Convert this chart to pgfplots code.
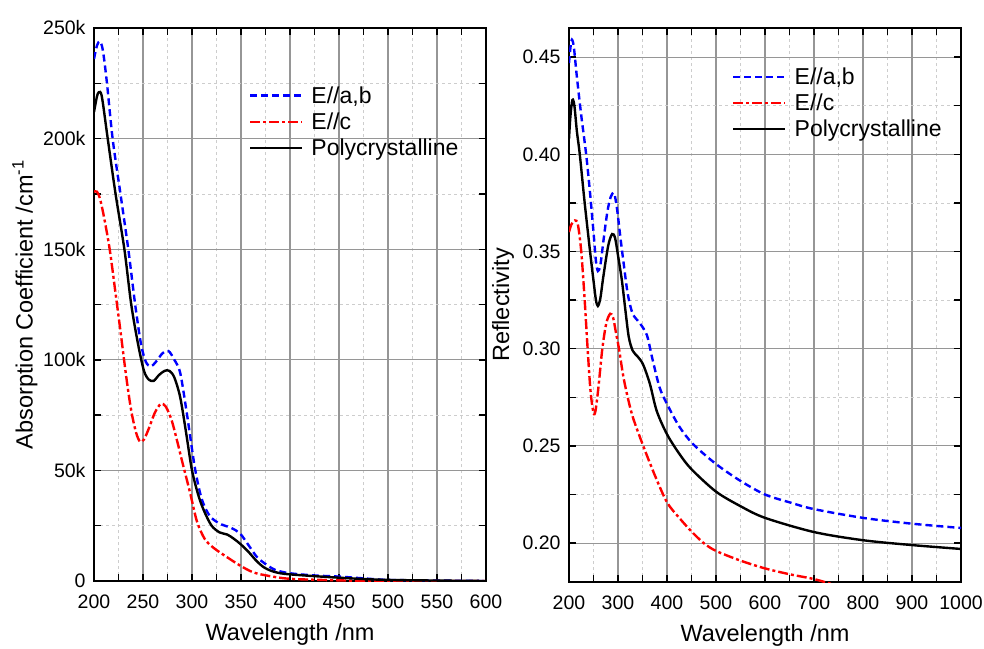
\documentclass[border=0pt]{standalone}
\usepackage{fontspec}
\setmainfont{Liberation Sans}
\usepackage{pgfplots}
\pgfplotsset{compat=1.18}

\definecolor{majgrid}{RGB}{150,150,150}
\definecolor{mingrid}{RGB}{205,205,205}

\pgfplotsset{
  specax/.style={
    scale only axis,
    anchor=north west,
    width=392pt,
    axis line style={line width=1.6pt},
    grid=both,
    major grid style={majgrid, line width=1.1pt},
    minor grid style={mingrid, dashed, line width=0.8pt},
    minor x tick num=1,
    minor y tick num=1,
    major tick length=7pt,
    minor tick length=7pt,
    tick style={black, line width=1.4pt},
    tick label style={font=\fontsize{19.5}{21}\selectfont},
    xticklabel style={yshift=-10pt, /pgf/number format/1000 sep={}},
    yticklabel style={xshift=-5pt},
    /pgf/number format/assume math mode=true,
    label style={font=\fontsize{23.5}{26}\selectfont},
    xlabel={Wavelength /nm},
    xlabel style={at={(axis description cs:0.5,-0.096)}, anchor=center},
    legend cell align=left,
    legend image code/.code={\draw[##1] (0pt,0pt) -- (52pt,0pt);},
    legend style={draw=none, fill=none, inner sep=0pt,
      font=\fontsize{23}{25}\selectfont, row sep=4pt,
      nodes={inner sep=2pt},
      /tikz/every odd column/.append style={column sep=6pt}},
  },
  ab/.style={blue, line width=2.4pt, dash pattern=on 7pt off 4pt, smooth},
  cc/.style={red, line width=2.4pt, dash pattern=on 10pt off 3pt on 3pt off 3pt, smooth},
  pc/.style={black, line width=2.4pt, smooth},
}

\begin{document}
\begin{tikzpicture}
\path[use as bounding box] (0pt,0pt) rectangle (984pt,-648pt);

\begin{axis}[
  specax,
  at={(94pt,-28pt)},
  height=553pt,
  xmin=200, xmax=600,
  ymin=0, ymax=250000,
  xtick={200,250,...,600},
  ytick={0,50000,100000,150000,200000,250000},
  yticklabels={0,50k,100k,150k,200k,250k},
  scaled y ticks=false,
  ylabel={Absorption Coefficient /cm\textsuperscript{-1}},
  ylabel style={at={(axis description cs:-0.176,0.5)}, anchor=center},
  legend style={at={(axis description cs:0.395,0.898)}, anchor=north west},
]
\addplot[ab] coordinates {
(200,236000) (203,242000) (206,244000) (209,240000) (213,226000) (219,200000)
(227,175000) (235,150000) (242,125000) (248,107000) (253,99000) (258,97000)
(263,99000) (270,103000) (276,104000) (282,100000) (288,94000) (295,75000)
(303,51000) (310,37000) (318,29500) (328,26000) (340,24000) (349,21500)
(358,16000) (366,11000) (374,8000) (385,5000) (400,3500) (425,2500)
(450,2000) (475,1200) (500,500) (550,200) (600,0)};
\addlegendentry{E//a,b}
\addplot[cc] coordinates {
(200,176000) (203,176000) (206,173000) (210,165000) (216,150000) (222,130000)
(227,113000) (233,92000) (238,77000) (243,67000) (247,63000) (251,64000)
(256,69000) (262,76000) (268,80000) (273,79000) (279,73000) (285,63000)
(290,54000) (298,40000) (305,27000) (313,19000) (322,15000) (335,11000)
(349,7000) (362,4000) (376,2500) (400,1000) (450,300) (500,0) (600,0)};
\addlegendentry{E//c}
\addplot[pc] coordinates {
(200,212000) (203,219000) (205,221000) (208,219000) (214,200000) (222,175000)
(231,150000) (238,125000) (245,107000) (251,95000) (256,91000) (261,90500)
(266,93000) (272,95000) (277,95000) (282,92000) (288,83000) (294,67000)
(300,50000) (307,38000) (313,31000) (320,25000) (328,22000) (336,21000)
(343,19000) (350,16500) (358,13000) (366,9000) (374,6000) (385,4000)
(400,3000) (450,1500) (500,500) (600,0)};
\addlegendentry{Polycrystalline}
\end{axis}

\begin{axis}[
  specax,
  at={(569pt,-28pt)},
  height=554pt,
  xmin=200, xmax=1000,
  ymin=0.18, ymax=0.465,
  xtick={200,300,...,1000},
  ytick={0.20,0.25,0.30,0.35,0.40,0.45},
  yticklabel style={/pgf/number format/.cd, fixed, fixed zerofill, precision=2},
  ylabel={Reflectivity},
  ylabel style={at={(axis description cs:-0.168,0.5)}, anchor=center},
  legend style={at={(axis description cs:0.416,0.932)}, anchor=north west},
]
\addplot[ab] coordinates {
(200,0.447) (203,0.455) (206,0.459) (210,0.455) (216,0.44) (225,0.42)
(235,0.40) (243,0.38) (250,0.36) (255,0.345) (259,0.340) (264,0.343)
(270,0.355) (278,0.370) (285,0.378) (292,0.380) (298,0.372) (305,0.357)
(312,0.343) (320,0.328) (330,0.318) (345,0.313) (359,0.307) (370,0.295)
(385,0.28) (400,0.2716) (425,0.26) (453,0.251) (500,0.2407) (550,0.232)
(600,0.225) (650,0.221) (700,0.2175) (800,0.213) (900,0.210) (1000,0.2078)};
\addlegendentry{E//a,b}
\addplot[cc] coordinates {
(200,0.36) (205,0.364) (212,0.366) (218,0.364) (225,0.35) (232,0.325)
(238,0.30) (244,0.278) (250,0.267) (254,0.268) (260,0.28) (268,0.300)
(276,0.313) (284,0.318) (290,0.316) (296,0.308) (302,0.300) (310,0.287)
(318,0.277) (330,0.265) (350,0.251) (375,0.235) (400,0.221) (425,0.213)
(450,0.206) (475,0.200) (500,0.196) (550,0.191) (600,0.187) (650,0.184)
(700,0.1815) (750,0.178) (800,0.175)};
\addlegendentry{E//c}
\addplot[pc] coordinates {
(200,0.408) (203,0.42) (207,0.428) (211,0.425) (216,0.412) (222,0.40)
(232,0.375) (243,0.35) (250,0.335) (255,0.325) (259,0.322) (264,0.326)
(270,0.337) (280,0.353) (288,0.359) (294,0.357) (300,0.348) (308,0.335)
(315,0.32) (322,0.306) (330,0.299) (340,0.296) (351,0.292) (365,0.282)
(379,0.268) (400,0.256) (425,0.246) (450,0.238) (500,0.2265) (550,0.219)
(600,0.213) (700,0.2057) (800,0.2015) (900,0.199) (1000,0.197)};
\addlegendentry{Polycrystalline}
\end{axis}
\end{tikzpicture}
\end{document}
